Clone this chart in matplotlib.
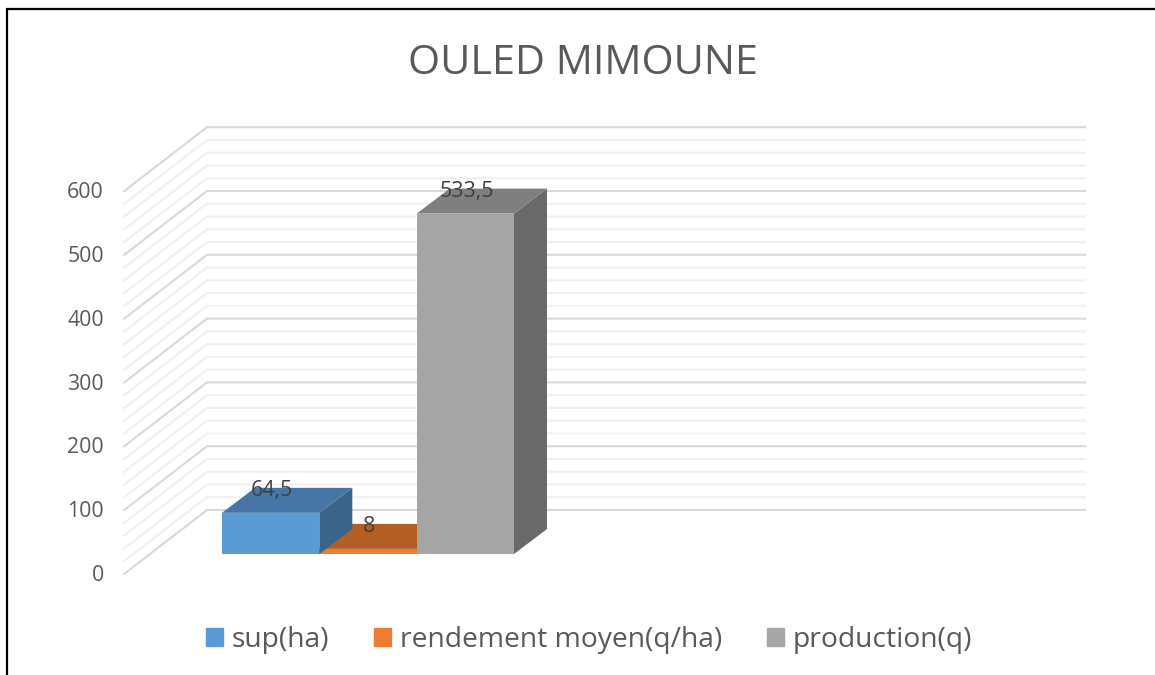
import matplotlib
matplotlib.use("Agg")
import matplotlib.pyplot as plt
from matplotlib.lines import Line2D
from matplotlib.patches import Patch, Polygon

plt.rcParams["font.family"] = ["Open Sans", "DejaVu Sans"]

title = "OULED MIMOUNE"
series = ["sup(ha)", "rendement moyen(q/ha)", "production(q)"]
values = [64.5, 8, 533.5]
labels = ["64,5", "8", "533,5"]
front_colors = ["#5B9BD5", "#ED7D31", "#A5A5A5"]
top_colors = ["#4676A5", "#B35E22", "#7F7F7F"]
side_colors = ["#3A6489", "#9C5120", "#696969"]
major_ticks = [0, 100, 200, 300, 400, 500, 600]
minor_ticks = [20, 40, 60, 80]

W, H = 1155, 675
X0, UX = 222, 97.33   # pixel of x=0, pixels per bar
Y0, UY = 554, 0.638   # pixel of value 0, pixels per unit


def dx(px):
  return px / UX


def dy(px):
  return px / UY


fig = plt.figure(figsize=(W / 100, H / 100), dpi=100)
ax = fig.add_axes([0, 0, 1, 1])
ax.set_xlim(-X0 / UX, (W - X0) / UX)
ax.set_ylim(-(H - Y0) / UY, Y0 / UY)
ax.axis("off")

# wall and floor offsets, from the bar plane
back_x, back_y = dx(207 - X0), dy(44)
front_x, front_y = dx(124 - X0), dy(-20)
right_x = dx(1085 - X0)


def grid_line(v, color, lw):
  ax.plot([front_x, back_x, right_x], [v + front_y, v + back_y, v + back_y],
          color=color, lw=lw, solid_joinstyle="miter", zorder=1)


for base in major_ticks[:-1]:
  for m in minor_ticks:
    grid_line(base + m, "#F0F0F0", 1.5)
for v in major_ticks:
  grid_line(v, "#D9D9D9", 1.5)
  ax.text(dx(104 - X0), v + front_y - dy(1.5), str(v), ha="right", va="center",
          fontsize=15.3, color="#595959")

# fake 3d bars, drawn left to right except that orange goes under blue
depth_x, depth_y = dx(33), dy(25)
for i in [1, 0, 2]:
  v = values[i]
  z = 2 + i
  if i == 1:
    z = 1.5
  ax.add_patch(Polygon([(i + 1, 0), (i + 1 + depth_x, depth_y),
                        (i + 1 + depth_x, v + depth_y), (i + 1, v)],
                       fc=side_colors[i], ec="none", zorder=z))
  ax.add_patch(Polygon([(i, v), (i + depth_x, v + depth_y),
                        (i + 1 + depth_x, v + depth_y), (i + 1, v)],
                       fc=top_colors[i], ec="none", zorder=z))
  ax.bar(i + 0.5, v, width=1, color=front_colors[i], zorder=z + 0.1)
  ax.text(i + 0.5 + dx(1), v + dy(22.5), labels[i], ha="center", va="center",
          fontsize=15.4, color="#404040", zorder=6)

ax.text(dx(582.5 - X0), dy(Y0 - 63.5), title, ha="center", va="center",
        fontsize=29.8, color="#595959")

handles = [Patch(color=c, label=s) for c, s in zip(front_colors, series)]
fig.legend(handles=handles, loc="center", bbox_to_anchor=(589 / W, 1 - 640 / H),
           ncol=3, frameon=False, fontsize=20.3, labelcolor="#595959",
           handlelength=0.6, handleheight=0.6, handletextpad=0.32,
           columnspacing=1.58, borderpad=0, borderaxespad=0)

# outer border, cut off by the image edge on the right and at the bottom
fig.add_artist(Line2D([6.5 / W, 6.5 / W, 1], [0, 1 - 9 / H, 1 - 9 / H],
                      color="black", lw=1.6, solid_joinstyle="miter"))

fig.savefig("out.png", dpi=100)
